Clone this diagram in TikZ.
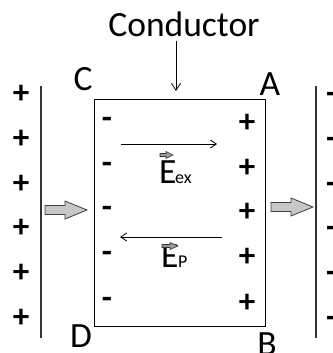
\documentclass[tikz,border=0pt]{standalone}
\usepackage{fontspec}
\setmainfont{Carlito}
\usetikzlibrary{arrows.meta}
\tikzset{
  big/.style={font=\fontsize{35.5}{40}\selectfont, inner sep=0pt},
  sgn/.style={font=\fontsize{33}{36}\selectfont\bfseries, inner sep=0pt},
  sub/.style={font=\fontsize{18}{20}\selectfont, inner sep=0pt, anchor=base west},
  plate/.style={draw=black!80, line width=1.1pt},
  field/.style={line width=0.8pt, -{Straight Barb[length=6pt,width=8pt]}},
  blockarrow/.style={fill=black!22, draw=black!75, line width=0.8pt, line join=miter},
  vecarrow/.style={fill=black!40, draw=black!80, line width=0.6pt},
}
\begin{document}
\begin{tikzpicture}[x=1pt,y=-1pt]
\useasboundingbox (0,0) rectangle (332,353);
% conductor label and arrow
\node[big, anchor=base] (cond) at (184,37) {Conductor};
\coordinate (ctip) at (176,91);
\draw[line width=0.8pt, -{Straight Barb[length=7pt,width=9pt]}] (176,41) -- (ctip);
% conductor rectangle
\draw[line width=1pt] (94,99) rectangle (265,326);
\node[big, anchor=base] (C) at (83,90) {C};
\node[big, anchor=base] (A) at (270,95) {A};
\node[big, anchor=base] (D) at (81,347) {D};
\node[big, anchor=base] (B) at (267,355) {B};
% plates
\draw[plate] (41,86) -- (41,338);
\draw[plate] (316,86) -- (316,338);
% charges on plates
\foreach \y [count=\i] in {94,139,184,228,273,318} {
  \node[sgn] (lp\i) at (21,\y) {+};
  \node[sgn, anchor=west] (rm\i) at (326,\y+4) {-};
}
% induced charges
\foreach \y [count=\i] in {123,168,212,257,303} {
  \node[sgn] (im\i) at (107,\y) {-};
  \node[sgn] (ip\i) at (247,\y) {+};
}
% fields
\coordinate (ex1) at (121,144);
\coordinate (ex2) at (217,144);
\draw[field] (ex1) -- (ex2);
\coordinate (ep1) at (222,237);
\coordinate (ep2) at (120,237);
\draw[field] (ep1) -- (ep2);
\node[big, anchor=base west] (Eex) at (159,183) {E};
\node[sub] (ex) at (175,183) {ex};
\node[big, anchor=base west] (Ep) at (161,267) {E};
\node[sub] (p) at (178,267) {P};
% small vector arrows
\draw[vecarrow] (160,153.5) -- (166,153.5) -- (166,151.5) -- (173,155) -- (166,158.5) -- (166,156.5) -- (160,156.5) -- cycle;
\draw[vecarrow] (162,244.5) -- (170,244.5) -- (170,242.5) -- (178,246) -- (170,249.5) -- (170,247.5) -- (162,247.5) -- cycle;
% block arrows
\draw[blockarrow] (45,205.5) -- (65,205.5) -- (65,201) -- (87,210) -- (65,219) -- (65,214.5) -- (45,214.5) -- cycle;
\draw[blockarrow] (271,202.5) -- (291,202.5) -- (291,198) -- (313,207) -- (291,216) -- (291,211.5) -- (271,211.5) -- cycle;
\end{tikzpicture}
\end{document}
